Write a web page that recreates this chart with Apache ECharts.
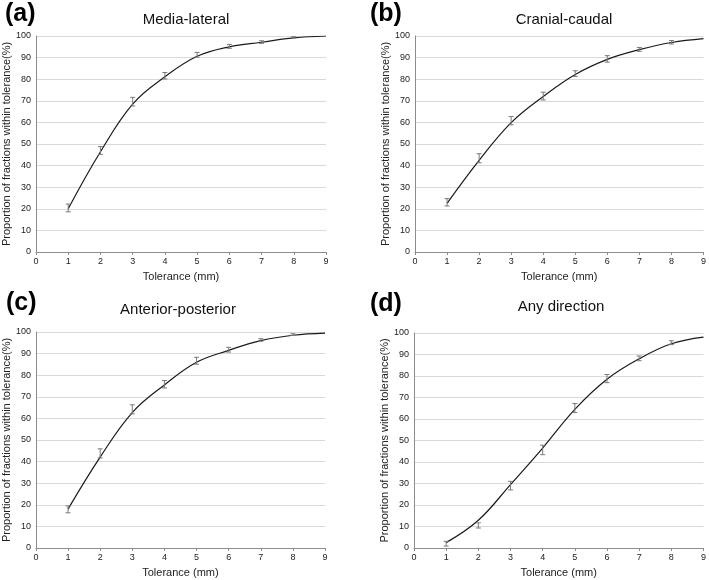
<!DOCTYPE html>
<html>
<head>
<meta charset="utf-8">
<script src="https://cdn.jsdelivr.net/npm/echarts@6/dist/echarts.min.js"></script>
<style>html,body{margin:0;padding:0;background:#fff;}#c{width:709px;height:580px;}</style>
</head>
<body>
<div id="c"></div>
<script>
// ---- data ----
const tolerance = [1, 2, 3, 4, 5, 6, 7, 8, 9];
const xTickLabels = ['0','1','2','3','4','5','6','7','8','9'];
const yTickLabels = ['0','10','20','30','40','50','60','70','80','90','100'];

const panelLetters = ['(a)', '(b)', '(c)', '(d)'];
const panelTitles = ['Media-lateral', 'Cranial-caudal', 'Anterior-posterior', 'Any direction'];

// measured means (%), error half-widths (%), and fitted curve values (%)
const mlMean = [20.4, 47.0, 69.6, 81.6, 91.3, 95.2, 97.2, 99.4, null];
const mlErr  = [1.8, 1.8, 2.0, 1.5, 1.1, 0.9, 0.6, 0.3, null];
const mlFit  = [20.0, 46.4, 68.5, 81.1, 90.6, 95.0, 97.1, 99.1, 100.0];

const ccMean = [23.0, 43.4, 60.8, 72.2, 82.6, 89.4, 93.8, 97.1, null];
const ccErr  = [1.7, 2.1, 1.9, 1.8, 1.3, 1.5, 0.9, 0.8, null];
const ccFit  = [22.5, 42.4, 59.9, 72.0, 82.2, 89.2, 93.7, 97.0, 98.8];

const apMean = [17.9, 43.8, 64.2, 75.8, 86.7, 91.8, 96.3, 98.8, null];
const apErr  = [1.6, 2.1, 2.1, 1.7, 1.6, 1.1, 0.6, 0.4, null];
const apFit  = [18.0, 42.1, 62.7, 75.5, 86.0, 91.5, 96.0, 98.5, 99.5];

const adMean = [2.0, 10.5, 29.0, 45.6, 65.1, 78.8, 88.2, 95.5, null];
const adErr  = [1.1, 1.2, 2.0, 2.2, 2.1, 1.9, 1.1, 0.9, null];
const adFit  = [2.5, 12.9, 29.5, 46.5, 64.5, 78.5, 88.0, 95.0, 98.1];

const means = [mlMean, ccMean, apMean, adMean];
const errs = [mlErr, ccErr, apErr, adErr];
const fits = [mlFit, ccFit, apFit, adFit];

// ---- layout ----
const grids = [
  {left: 36, right: 383, top: 36, bottom: 328},
  {left: 415, right: 4, top: 36, bottom: 328},
  {left: 35, right: 384, top: 332, bottom: 32},
  {left: 414, right: 5, top: 333, bottom: 32}
];
const letterPos = [[5, 2], [370, 2], [6, 291], [370, 292]];
const titlePos = [[186, 20], [564, 20], [178, 310], [561, 307]];

const FONT = '"Liberation Sans", Arial, sans-serif';

const chart = echarts.init(document.getElementById('c'), null, {renderer: 'canvas'});

const xAxes = [], yAxes = [], series = [], graphics = [];

grids.forEach((g, i) => {
  xAxes.push({
    gridIndex: i, type: 'value', min: 0, max: 9, interval: 1,
    name: 'Tolerance (mm)', nameLocation: 'middle', nameGap: 19,
    nameTextStyle: {fontFamily: FONT, fontSize: 11, color: '#222'},
    axisLine: {show: true, lineStyle: {color: '#8c8c8c', width: 1}},
    axisTick: {show: true, length: 3, lineStyle: {color: '#8c8c8c'}},
    axisLabel: {fontFamily: FONT, fontSize: 9, color: '#222', margin: 5,
      formatter: v => xTickLabels[Math.round(v)]},
    splitLine: {show: false}
  });
  yAxes.push({
    gridIndex: i, type: 'value', min: 0, max: 100, interval: 10,
    name: 'Proportion of fractions within tolerance(%)', nameLocation: 'middle', nameGap: 21,
    nameRotate: 90,
    nameTextStyle: {fontFamily: FONT, fontSize: 11, color: '#222'},
    axisLine: {show: true, lineStyle: {color: '#8c8c8c', width: 1}},
    axisTick: {show: false},
    axisLabel: {fontFamily: FONT, fontSize: 9, color: '#222', margin: 5,
      formatter: v => yTickLabels[Math.round(v / 10)]},
    splitLine: {show: true, lineStyle: {color: '#d9d9d9', width: 1}}
  });
  series.push({
    type: 'line', xAxisIndex: i, yAxisIndex: i, smooth: 0.4,
    showSymbol: false, silent: true,
    lineStyle: {color: '#1a1a1a', width: 1.2},
    data: tolerance.map((t, k) => [t, fits[i][k]]),
    z: 3
  });
  const ebData = [];
  tolerance.forEach((t, k) => {
    if (means[i][k] != null) ebData.push([t, means[i][k] - errs[i][k], means[i][k] + errs[i][k]]);
  });
  series.push({
    type: 'custom', xAxisIndex: i, yAxisIndex: i, silent: true,
    encode: {x: 0, y: [1, 2]},
    data: ebData,
    renderItem: (params, api) => {
      const x = api.value(0);
      const lo = api.coord([x, api.value(1)]);
      const hi = api.coord([x, api.value(2)]);
      const w = 2.5;
      const st = {stroke: '#7a7a7a', lineWidth: 1};
      return {type: 'group', children: [
        {type: 'line', shape: {x1: lo[0], y1: lo[1], x2: hi[0], y2: hi[1]}, style: st},
        {type: 'line', shape: {x1: lo[0] - w, y1: lo[1], x2: lo[0] + w, y2: lo[1]}, style: st},
        {type: 'line', shape: {x1: hi[0] - w, y1: hi[1], x2: hi[0] + w, y2: hi[1]}, style: st}
      ]};
    },
    z: 4
  });
  graphics.push({
    type: 'text', left: letterPos[i][0], top: letterPos[i][1],
    style: {text: panelLetters[i], fontFamily: FONT, fontWeight: 'bold', fontSize: 25, fill: '#000'}
  });
  graphics.push({
    type: 'text', x: titlePos[i][0], y: titlePos[i][1],
    style: {text: panelTitles[i], fontFamily: FONT, fontSize: 15, fill: '#111',
      textAlign: 'center', textVerticalAlign: 'middle'}
  });
});

chart.setOption({
  backgroundColor: '#ffffff',
  animation: false,
  grid: grids,
  xAxis: xAxes,
  yAxis: yAxes,
  series: series,
  graphic: graphics
});
</script>
</body>
</html>
